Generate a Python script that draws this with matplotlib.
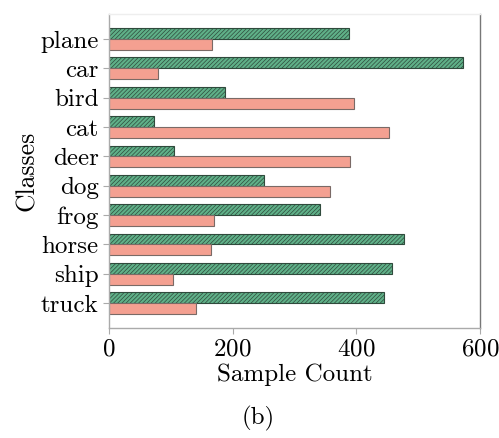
import matplotlib
matplotlib.use('Agg')
import matplotlib.pyplot as plt
import numpy as np

plt.rcParams['font.family'] = 'serif'
plt.rcParams['font.serif'] = ['cmr10']
plt.rcParams['mathtext.fontset'] = 'cm'
plt.rcParams['axes.formatter.use_mathtext'] = True
plt.rcParams['hatch.linewidth'] = 0.5

classes = ['plane', 'car', 'bird', 'cat', 'deer', 'dog', 'frog', 'horse', 'ship', 'truck']
counts_green = [388, 572, 188, 73, 105, 251, 342, 477, 458, 444]
counts_pink = [167, 79, 397, 452, 389, 357, 170, 165, 104, 141]

GREEN = '#5fb088'
PINK = '#f4a091'

fig = plt.figure(figsize=(4.99, 4.38), dpi=100)
ax = fig.add_axes([0.2184, 0.251, 0.7436, 0.717])

y = np.arange(len(classes))
h = 0.37
ax.barh(y - h / 2, counts_green, height=h, color=GREEN, edgecolor='#2f4a3c',
        hatch='////////', linewidth=0.8)
ax.barh(y + h / 2, counts_pink, height=h, color=PINK, edgecolor='#7a6a66',
        linewidth=0.8)

ax.set_ylim(9.85, -0.85)
ax.set_xlim(0, 600)
ax.set_yticks(y, labels=classes)
ax.set_xticks([0, 200, 400, 600])
ax.tick_params(labelsize=18, color='#aaaaaa', length=4, width=0.8)
ax.set_xlabel('Sample Count', fontsize=18, labelpad=2)
ax.set_ylabel('Classes', fontsize=18.5, labelpad=1)

ax.spines['top'].set_color('#eeeeee')
ax.spines['left'].set_color('#aaaaaa')
ax.spines['bottom'].set_color('#aaaaaa')
ax.spines['right'].set_color('#777777')
for s in ax.spines.values():
    s.set_linewidth(1.0)

fig.text(0.517, 0.016, '(b)', fontsize=18, ha='center', va='bottom')

fig.savefig('out.png', dpi=100)
